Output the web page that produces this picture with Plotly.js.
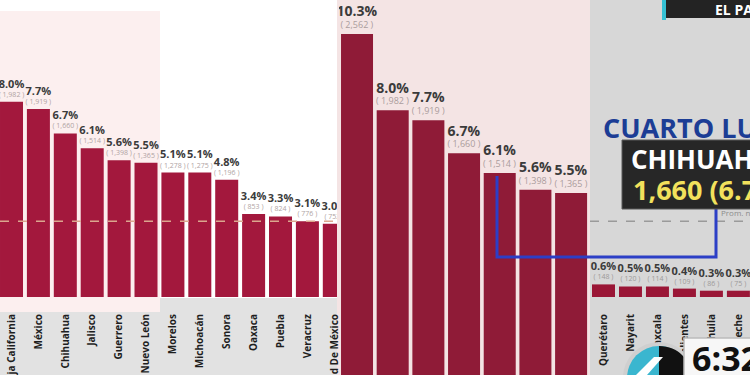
<!DOCTYPE html>
<html>
<head>
<meta charset="utf-8">
<script src="https://cdn.plot.ly/plotly-3.0.1.min.js"></script>
<style>html,body{margin:0;padding:0;background:#e2e2e2;}#chart{width:750px;height:375px;}</style>
</head>
<body>
<div id="chart"></div>
<script>
// ---- data ----
const leftStates = ['Baja California','México','Chihuahua','Jalisco','Guerrero','Nuevo León','Morelos','Michoacán','Sonora','Oaxaca','Puebla','Veracruz','Ciudad De México'];
const leftPct    = [8.0, 7.7, 6.7, 6.1, 5.6, 5.5, 5.1, 5.1, 4.8, 3.4, 3.3, 3.1, 3.0];
const leftCount  = ['1,982','1,919','1,660','1,514','1,398','1,365','1,278','1,275','1,196','853','824','776','752'];

const topStates  = ['Guanajuato','Baja California','México','Chihuahua','Jalisco','Guerrero','Nuevo León'];
const topPct     = [10.3, 8.0, 7.7, 6.7, 6.1, 5.6, 5.5];
const topCount   = ['2,562','1,982','1,919','1,660','1,514','1,398','1,365'];

const lowStates  = ['Querétaro','Nayarit','Tlaxcala','Aguascalientes','Coahuila','Campeche'];
const lowPct     = [0.6, 0.5, 0.5, 0.4, 0.3, 0.3];
const lowCount   = ['148','120','114','109','86','75'];

const avgPct = 3.1;
const highlightState = 'CHIHUAHUA';
const highlightValue = '1,660 (6.7%)';

// ---- helpers ----
const W = 750, H = 375;
const X = p => p / W;
const Y = p => 1 - p / H;
const FONT = 'Open Sans, Roboto, sans-serif';

function labels(pct, cnt, big) {
  return pct.map((p, i) =>
    '<span style="font-size:' + big + 'px;color:#3b3b3b"><b>' + p.toFixed(1) + '%</b></span><br>( ' + cnt[i] + ' )');
}

const traces = [
  {
    type: 'bar', x: leftStates, y: leftPct, xaxis: 'x', yaxis: 'y',
    width: 0.855, marker: {color: '#a3183d'},
    text: labels(leftPct, leftCount, 11), textposition: 'outside', textangle: 0,
    constraintext: 'none', cliponaxis: true,
    textfont: {family: FONT, size: 7, color: '#b0a3a3'}, hoverinfo: 'x+y'
  },
  {
    type: 'bar', x: topStates, y: topPct, xaxis: 'x2', yaxis: 'y2',
    width: 0.897, marker: {color: '#8f1b37'},
    text: labels(topPct, topCount, 14), textposition: 'outside', textangle: 0,
    constraintext: 'none', cliponaxis: true,
    textfont: {family: FONT, size: 9, color: '#ab9d9d'}, hoverinfo: 'x+y'
  },
  {
    type: 'bar', x: lowStates, y: lowPct, xaxis: 'x3', yaxis: 'y3',
    width: 0.852, marker: {color: '#9a1636'},
    text: labels(lowPct, lowCount, 11), textposition: 'outside', textangle: 0,
    constraintext: 'none', cliponaxis: true,
    textfont: {family: FONT, size: 7, color: '#9d9a9a'}, hoverinfo: 'x+y'
  }
];

const tickFont = {family: FONT, size: 10, color: '#1e1e1e', weight: 700};
const baseX = {type: 'category', showgrid: false, zeroline: false, showline: false, ticks: '', fixedrange: true};

const layout = {
  width: W, height: H,
  margin: {l: 0, r: 0, t: 0, b: 0, pad: 0},
  paper_bgcolor: '#e2e2e2', plot_bgcolor: 'rgba(0,0,0,0)',
  showlegend: false,
  xaxis:  Object.assign({}, baseX, {domain: [0, X(337)], anchor: 'y', range: [-0.428, 12.1],
           tickangle: -90, tickfont: tickFont, ticklabelstandoff: 14}),
  yaxis:  {domain: [Y(297), 1], range: [0, 12.17], visible: false, anchor: 'x', fixedrange: true},
  xaxis2: Object.assign({}, baseX, {domain: [X(339), X(590)], anchor: 'y2', range: [-0.505, 6.53],
           showticklabels: false}),
  yaxis2: {domain: [0, 1], range: [0, 11.33], visible: false, anchor: 'x2', fixedrange: true},
  xaxis3: Object.assign({}, baseX, {domain: [X(590), 1], anchor: 'y3', range: [-0.5, 5.43],
           tickangle: -90, tickfont: tickFont, ticklabelstandoff: 14}),
  yaxis3: {domain: [Y(297), 1], range: [0, 14.14], visible: false, anchor: 'x3', fixedrange: true},
  shapes: [
    // backgrounds
    {type: 'rect', xref: 'paper', yref: 'paper', x0: 0, x1: X(337), y0: Y(298), y1: 1,
     fillcolor: '#ffffff', line: {width: 0}, layer: 'below'},
    {type: 'rect', xref: 'paper', yref: 'paper', x0: 0, x1: X(160), y0: Y(312), y1: Y(11),
     fillcolor: '#fcefef', line: {width: 0}, layer: 'below'},
    {type: 'rect', xref: 'paper', yref: 'paper', x0: X(337), x1: X(590), y0: 0, y1: 1,
     fillcolor: '#f4e4e4', line: {width: 0}, layer: 'below'},
    {type: 'rect', xref: 'paper', yref: 'paper', x0: X(590), x1: 1, y0: 0, y1: 1,
     fillcolor: '#d7d7d7', line: {width: 0}, layer: 'below'},
    // national average
    {type: 'line', xref: 'paper', yref: 'y', x0: 0, x1: X(337), y0: avgPct, y1: avgPct,
     line: {color: '#dba68e', width: 1.5, dash: 'dash'}, layer: 'above'},
    {type: 'line', xref: 'paper', yref: 'y', x0: X(590), x1: 1, y0: avgPct, y1: avgPct,
     line: {color: '#9a9a9a', width: 1.5, dash: 'dash'}, layer: 'above'},
    // highlight connector
    {type: 'path', xref: 'paper', yref: 'paper',
     path: 'M ' + X(497) + ',' + Y(176) + ' L ' + X(497) + ',' + Y(257) + ' L ' + X(716) + ',' + Y(257) + ' L ' + X(716) + ',' + Y(205),
     line: {color: '#2c3fc6', width: 3}, layer: 'above'},
    // callout box
    {type: 'rect', xref: 'paper', yref: 'paper', x0: X(622), x1: X(752), y0: Y(209), y1: Y(140),
     fillcolor: '#272727', line: {color: '#5a5a5a', width: 1}, layer: 'above'},
    // top banner
    {type: 'rect', xref: 'paper', yref: 'paper', x0: X(666), x1: X(752), y0: Y(18), y1: Y(-2),
     fillcolor: '#232323', line: {width: 0}, layer: 'above'},
    {type: 'rect', xref: 'paper', yref: 'paper', x0: X(662), x1: X(666), y0: Y(20), y1: Y(-2),
     fillcolor: '#35c0d3', line: {width: 0}, layer: 'above'},
    // logo
    {type: 'circle', xref: 'paper', yref: 'paper', x0: X(623), x1: X(695), y0: Y(414), y1: Y(342),
     fillcolor: '#cfcfcf', line: {width: 0}, layer: 'above'},
    {type: 'circle', xref: 'paper', yref: 'paper', x0: X(627), x1: X(691), y0: Y(410), y1: Y(346),
     fillcolor: '#3ab6cf', line: {width: 0}, layer: 'above'},
    {type: 'path', xref: 'paper', yref: 'paper',
     path: 'M ' + X(659) + ',' + Y(346) + ' C ' + X(701.7) + ',' + Y(346) + ' ' + X(701.7) + ',' + Y(410) + ' ' + X(659) + ',' + Y(410) + ' Z',
     fillcolor: '#111111', line: {width: 0}, layer: 'above'},
    {type: 'path', xref: 'paper', yref: 'paper',
     path: 'M ' + X(636) + ',' + Y(375) + ' L ' + X(654) + ',' + Y(357) + ' L ' + X(663) + ',' + Y(357) + ' L ' + X(647) + ',' + Y(375) + ' Z',
     fillcolor: '#ffffff', line: {width: 0}, layer: 'above'},
    {type: 'rect', xref: 'paper', yref: 'paper', x0: X(684), x1: X(753), y0: Y(378), y1: Y(338),
     fillcolor: '#f7f7f7', line: {color: '#bcbcbc', width: 1.5}, layer: 'above'}
  ],
  annotations: [
    {xref: 'paper', yref: 'paper', x: X(601), y: Y(127), xanchor: 'left', yanchor: 'middle',
     text: '<b>CUARTO LUGAR</b>', showarrow: false,
     font: {family: FONT, size: 27, color: '#1c3d95'}},
    {xref: 'paper', yref: 'paper', x: X(629), y: Y(159), xanchor: 'left', yanchor: 'middle',
     text: '<b>' + highlightState + '</b>', showarrow: false,
     font: {family: FONT, size: 26, color: '#ffffff'}},
    {xref: 'paper', yref: 'paper', x: X(631), y: Y(189), xanchor: 'left', yanchor: 'middle',
     text: '<b>' + highlightValue + '</b>', showarrow: false,
     font: {family: FONT, size: 27, color: '#f2e15c'}},
    {xref: 'paper', yref: 'paper', x: X(719), y: Y(213), xanchor: 'left', yanchor: 'middle',
     text: 'Prom. nacional', showarrow: false,
     font: {family: FONT, size: 8, color: '#8c8c8c'}},
    {xref: 'paper', yref: 'paper', x: X(713), y: Y(9), xanchor: 'left', yanchor: 'middle',
     text: '<b>EL PAÍS</b>', showarrow: false,
     font: {family: FONT, size: 14, color: '#ffffff'}},
    {xref: 'paper', yref: 'paper', x: X(690), y: Y(358), xanchor: 'left', yanchor: 'middle',
     text: '<b>6:32</b>', showarrow: false,
     font: {family: FONT, size: 34, color: '#111111'}}
  ]
};

Plotly.newPlot('chart', traces, layout, {displayModeBar: false, staticPlot: true});
</script>
</body>
</html>
